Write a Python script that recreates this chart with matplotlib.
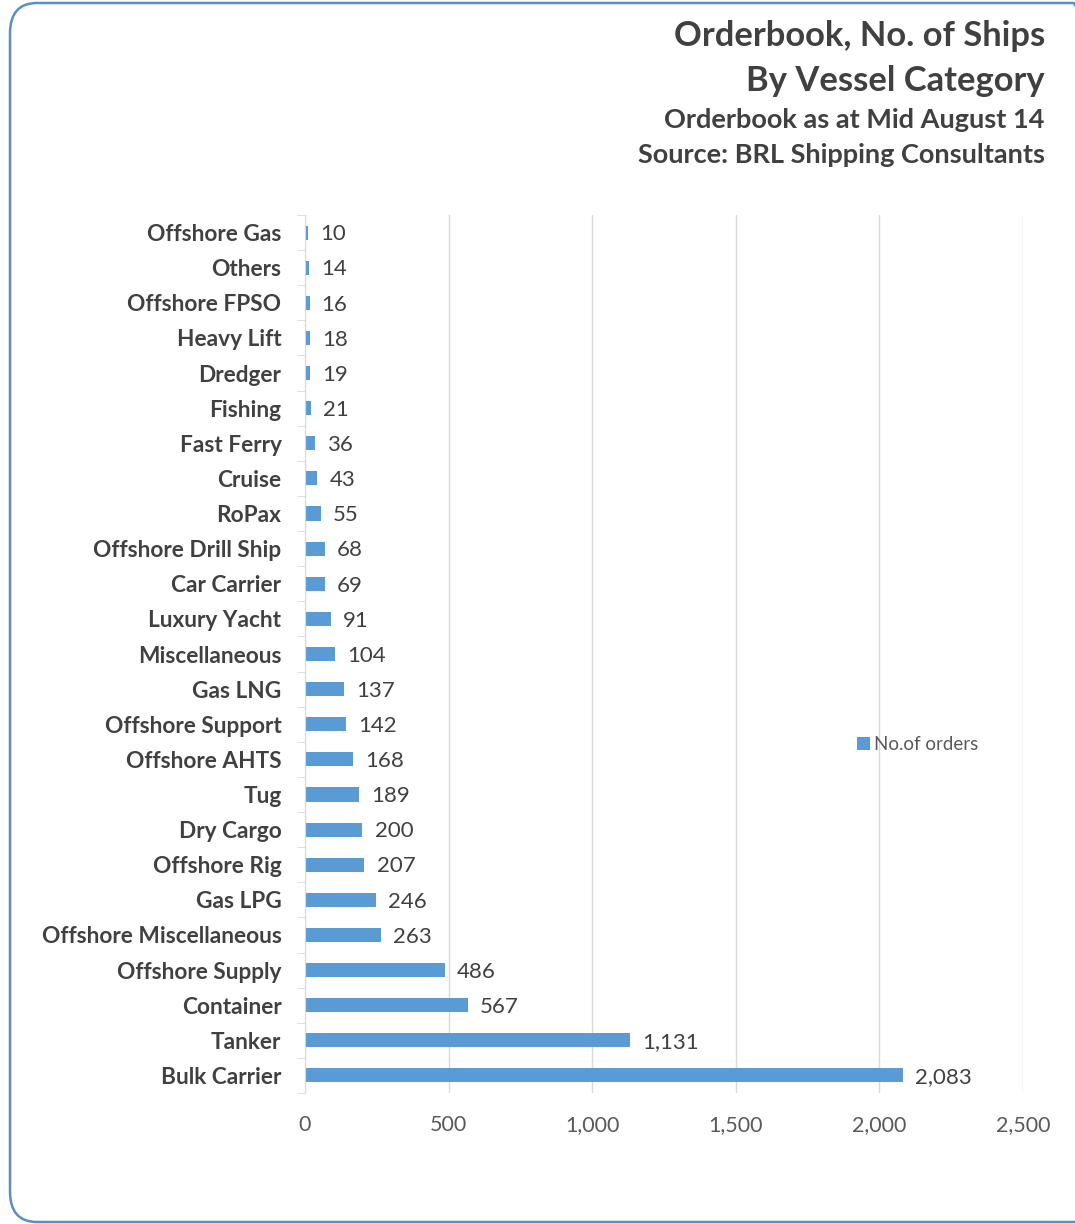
import numpy as np
import matplotlib.pyplot as plt
from matplotlib.patches import FancyBboxPatch
from matplotlib.ticker import FuncFormatter, FixedLocator

plt.rcParams['font.family'] = ['Lato', 'DejaVu Sans']

# ---------------------------------
# Data
# ---------------------------------

categories = [
    "Bulk Carrier", "Tanker", "Container", "Offshore Supply",
    "Offshore Miscellaneous", "Gas LPG", "Offshore Rig", "Dry Cargo",
    "Tug", "Offshore AHTS", "Offshore Support", "Gas LNG",
    "Miscellaneous", "Luxury Yacht", "Car Carrier", "Offshore Drill Ship",
    "RoPax", "Cruise", "Fast Ferry", "Fishing", "Dredger", "Heavy Lift",
    "Offshore FPSO", "Others", "Offshore Gas",
]
orders = [
    2083, 1131, 567, 486, 263, 246, 207, 200, 189, 168, 142, 137,
    104, 91, 69, 68, 55, 43, 36, 21, 19, 18, 16, 14, 10,
]
x_ticks = [0, 500, 1000, 1500, 2000, 2500]

BAR = "#5B9BD5"
TXT = "#404040"
GRID = "#D9D9D9"

# ---------------------------------
# Figure
# ---------------------------------

fig = plt.figure(figsize=(10.75, 12.24), dpi=100)

border = FancyBboxPatch(
    (10 / 1075, 2 / 1224), 1090 / 1075, 1219 / 1224,
    boxstyle="round,pad=0,rounding_size=0.025",
    transform=fig.transFigure, fill=False,
    edgecolor="#5B8DC9", linewidth=1.8,
)
fig.patches.append(border)

ax = fig.add_axes([305 / 1075, 1 - 1093 / 1224, 718 / 1075, 878 / 1224])

y = np.arange(len(categories))
ax.barh(y, orders, height=0.4, color=BAR, label="No.of orders")

for yi, v in zip(y, orders):
    ax.text(v + 42, yi - 0.05, f"{v:,}", va="center", ha="left",
            fontsize=16, color=TXT)

ax.set_xlim(0, 2500)
ax.set_ylim(-0.5, len(categories) - 0.5)
ax.xaxis.set_major_locator(FixedLocator(x_ticks))
ax.xaxis.set_major_formatter(FuncFormatter(lambda v, p: f"{int(v):,}"))
ax.grid(axis="x", color=GRID, linewidth=1)
ax.set_axisbelow(True)

ax.set_yticks(y)
ax.set_yticklabels(categories, fontsize=16.3, fontweight="bold", color=TXT)
ax.yaxis.set_minor_locator(FixedLocator(np.arange(-0.5, len(categories), 1)))
ax.tick_params(axis="y", which="major", length=0, pad=17)
ax.tick_params(axis="y", which="minor", length=6, color=GRID)
ax.tick_params(axis="x", length=0, labelsize=15.5, labelcolor="#595959", pad=16)

for s in ["top", "right", "bottom"]:
    ax.spines[s].set_visible(False)
ax.spines["left"].set_color(GRID)

ax.legend(loc="center left", bbox_to_anchor=(0.745, 0.397), frameon=False,
          fontsize=13.5, labelcolor="#595959", handlelength=0.7,
          handleheight=0.7, handletextpad=0.2)

# ---------------------------------
# Titles
# ---------------------------------

fig.text(1045 / 1075, 1 - 46 / 1224, "Orderbook, No. of Ships",
         ha="right", va="baseline", fontsize=24.8, fontweight="bold", color=TXT)
fig.text(1045 / 1075, 1 - 91 / 1224, "By Vessel Category",
         ha="right", va="baseline", fontsize=24.8, fontweight="bold", color=TXT)
fig.text(1045 / 1075, 1 - 128 / 1224, "Orderbook as at Mid August 14",
         ha="right", va="baseline", fontsize=19.5, fontweight="bold", color=TXT)
fig.text(1045 / 1075, 1 - 163 / 1224, "Source: BRL Shipping Consultants",
         ha="right", va="baseline", fontsize=19.5, fontweight="bold", color=TXT)

fig.savefig("out.png", dpi=100)
